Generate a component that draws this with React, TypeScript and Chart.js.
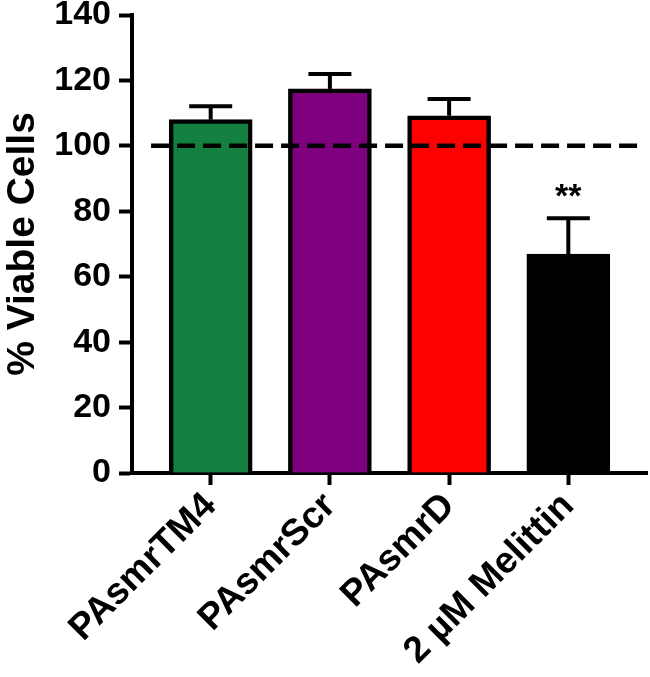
import React, { useEffect, useRef } from "react";
import { Chart, registerables } from "chart.js";

Chart.register(...registerables);

const categories = ["PAsmrTM4", "PAsmrScr", "PAsmrD", "2 µM Melittin"];
const means = [108.0, 117.4, 109.2, 66.9];
const sem = [4.1, 4.6, 5.1, 11.0];
const barColors = ["#138040", "#7f007f", "#fd0000", "#000000"];
const significance = ["", "", "", "**"];
const yTicks = [0, 20, 40, 60, 80, 100, 120, 140];
const referenceValue = 100;
const xRange = [-0.66, 3.66];
const refLineRange = [-0.5, 3.6];

const FONT = "'Liberation Sans', Arial, Helvetica, sans-serif";

const overlayPlugin = {
  id: "overlay",
  afterDatasetsDraw(chart: any) {
    const { ctx } = chart;
    const xs = chart.scales.x;
    const ys = chart.scales.y;
    ctx.save();
    ctx.strokeStyle = "#000";
    ctx.lineWidth = 4;
    ctx.lineCap = "butt";
    means.forEach((m, i) => {
      const x = xs.getPixelForValue(i);
      const yb = ys.getPixelForValue(m);
      const yt = ys.getPixelForValue(m + sem[i]);
      ctx.beginPath();
      ctx.moveTo(x, yb);
      ctx.lineTo(x, yt);
      ctx.stroke();
      ctx.beginPath();
      ctx.moveTo(x - 21.5, yt);
      ctx.lineTo(x + 21.5, yt);
      ctx.stroke();
      if (significance[i]) {
        ctx.fillStyle = "#000";
        ctx.font = `bold 34px ${FONT}`;
        ctx.textAlign = "center";
        ctx.textBaseline = "alphabetic";
        ctx.fillText(significance[i], x, yt - 11);
      }
    });
    const yr = ys.getPixelForValue(referenceValue);
    ctx.setLineDash([18, 8]);
    ctx.lineWidth = 4.5;
    ctx.beginPath();
    ctx.moveTo(xs.getPixelForValue(refLineRange[0]), yr);
    ctx.lineTo(xs.getPixelForValue(refLineRange[1]), yr);
    ctx.stroke();
    ctx.restore();
  },
};

export default function App() {
  const ref = useRef<HTMLCanvasElement>(null);
  useEffect(() => {
    document.body.style.margin = "0";
    const chart = new Chart(ref.current as HTMLCanvasElement, {
      type: "bar",
      data: {
        datasets: [
          {
            data: means.map((y, i) => ({ x: i, y })),
            backgroundColor: barColors,
            borderColor: "#000",
            borderWidth: 4.5,
            barThickness: 83,
            borderSkipped: "start",
          } as any,
        ],
      },
      options: {
        animation: false,
        responsive: false,
        maintainAspectRatio: false,
        layout: { padding: { top: 15, right: 3, left: 0, bottom: 0 } },
        plugins: { legend: { display: false }, tooltip: { enabled: false } },
        scales: {
          x: {
            type: "linear",
            min: xRange[0],
            max: xRange[1],
            offset: false,
            afterBuildTicks: (s: any) => {
              s.ticks = categories.map((_, i) => ({ value: i }));
            },
            ticks: {
              callback: (v: any) => categories[v] ?? "",
              minRotation: 45,
              maxRotation: 45,
              autoSkip: false,
              color: "#000",
              padding: 2,
              font: { family: FONT, size: 37, weight: "bold", lineHeight: 1 },
            },
            grid: {
              display: true,
              offset: false,
              drawOnChartArea: false,
              drawTicks: true,
              tickLength: 12,
              tickWidth: 4,
              color: "#000",
            },
            border: { display: true, color: "#000", width: 4 },
            afterFit: (s: any) => {
              s.height = 204;
              s.paddingLeft = 0;
              s.paddingRight = 0;
            },
          },
          y: {
            min: 0,
            max: 140,
            afterBuildTicks: (s: any) => {
              s.ticks = yTicks.map((v) => ({ value: v }));
            },
            ticks: {
              color: "#000",
              padding: 8,
              font: { family: FONT, size: 34, weight: "bold", lineHeight: 0.8 },
            },
            grid: {
              display: true,
              drawOnChartArea: false,
              drawTicks: true,
              tickLength: 13,
              tickWidth: 4,
              color: "#000",
            },
            border: { display: true, color: "#000", width: 4 },
            title: {
              display: true,
              text: "% Viable Cells",
              color: "#000",
              padding: 0,
              font: { family: FONT, size: 39, weight: "bold", lineHeight: 1.2 },
            },
            afterFit: (s: any) => {
              s.width = 132;
              s.paddingTop = 0;
              s.paddingBottom = 0;
            },
          },
        },
      } as any,
      plugins: [overlayPlugin],
    });
    return () => chart.destroy();
  }, []);
  return (
    <div style={{ width: 650, height: 677 }}>
      <canvas ref={ref} width={650} height={677} style={{ display: "block" }} />
    </div>
  );
}
